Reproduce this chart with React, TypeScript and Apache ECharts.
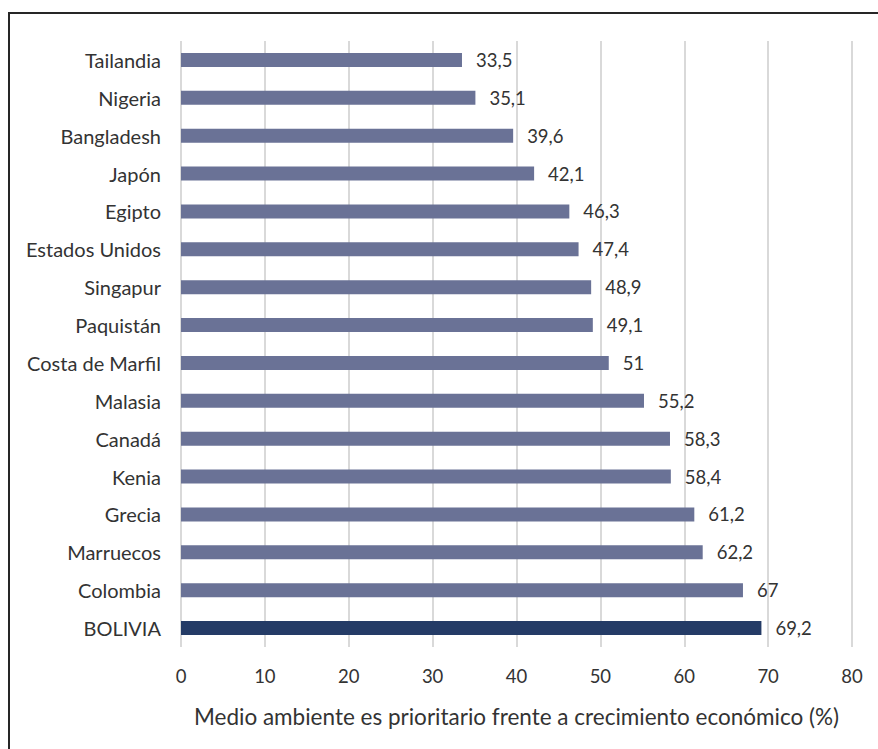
import React, { useEffect, useRef } from "react";
import * as echarts from "echarts";

const categories = [
  "Tailandia", "Nigeria", "Bangladesh", "Japón", "Egipto", "Estados Unidos",
  "Singapur", "Paquistán", "Costa de Marfil", "Malasia", "Canadá", "Kenia",
  "Grecia", "Marruecos", "Colombia", "BOLIVIA",
];
const values = [33.5, 35.1, 39.6, 42.1, 46.3, 47.4, 48.9, 49.1, 51, 55.2, 58.3, 58.4, 61.2, 62.2, 67, 69.2];
const highlight = "BOLIVIA";
const axisTitle = "Medio ambiente es prioritario frente a crecimiento económico (%)";

const FONT = "Lato, 'Open Sans', sans-serif";
const TEXT = "#333333";

export default function App() {
  const ref = useRef<HTMLDivElement>(null);
  useEffect(() => {
    if (!ref.current) return;
    const chart = echarts.init(ref.current, undefined, { renderer: "svg" });
    chart.setOption({
      animation: false,
      backgroundColor: "#ffffff",
      textStyle: { fontFamily: FONT },
      grid: { left: 181, right: 26, top: 41, bottom: 102, containLabel: false },
      graphic: [
        {
          type: "rect",
          shape: { x: 9, y: 13, width: 900, height: 800 },
          style: { fill: "none", stroke: "#262626", lineWidth: 2 },
          silent: true,
        },
      ],
      xAxis: {
        type: "value",
        min: 0,
        max: 80,
        interval: 10,
        axisLine: { show: false },
        axisTick: { show: false },
        splitLine: { show: true, lineStyle: { color: "#d9d9d9", width: 2 } },
        axisLabel: { color: TEXT, fontSize: 18.5, margin: 19, fontFamily: FONT },
        name: axisTitle,
        nameLocation: "middle",
        nameGap: 58,
        nameTextStyle: { color: TEXT, fontSize: 22.5, fontFamily: FONT },
      },
      yAxis: {
        type: "category",
        inverse: true,
        data: categories,
        axisLine: { show: false },
        axisTick: { show: false },
        axisLabel: { color: TEXT, fontSize: 20, margin: 20, fontFamily: FONT },
      },
      series: [
        {
          type: "bar",
          barWidth: 14,
          data: values.map((v, i) => ({
            value: v,
            itemStyle: { color: categories[i] === highlight ? "#243b66" : "#6a7296" },
          })),
          label: {
            show: true,
            position: "right",
            distance: 14,
            color: TEXT,
            fontSize: 18.5,
            fontFamily: FONT,
            formatter: (p: any) => String(p.value).replace(".", ","),
          },
        },
      ],
    });
    return () => chart.dispose();
  }, []);
  return (
    <div
      ref={ref}
      style={{ position: "fixed", left: 0, top: 0, width: 878, height: 749 }}
    />
  );
}
